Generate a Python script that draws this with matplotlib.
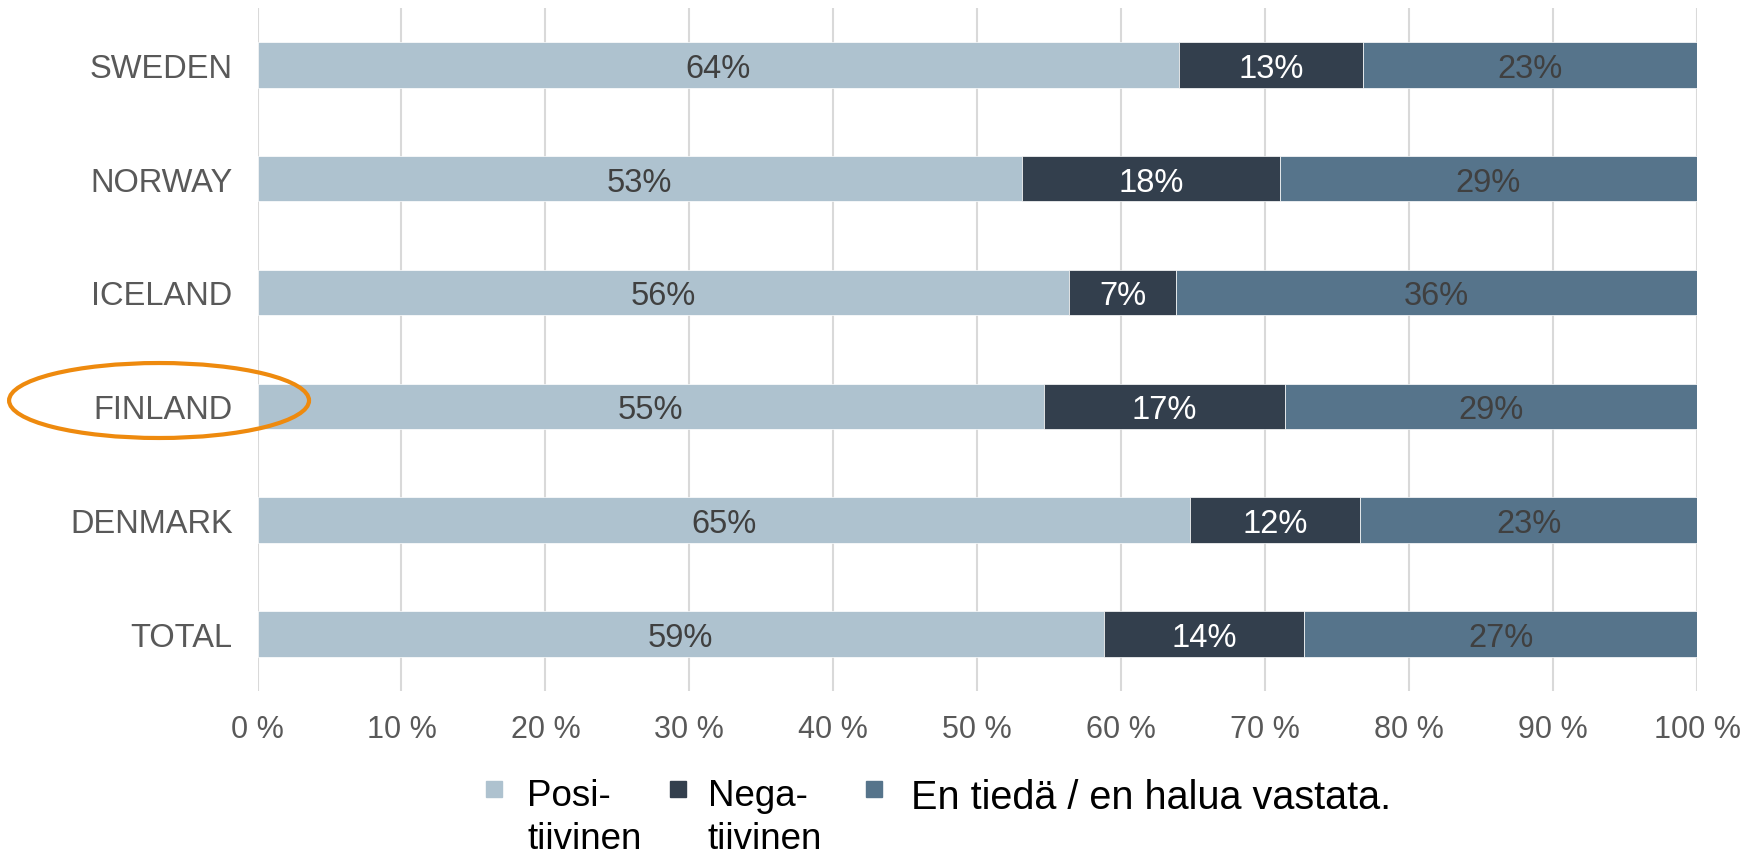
import matplotlib
matplotlib.use('Agg')
import matplotlib.pyplot as plt
from matplotlib.patches import Ellipse, Rectangle

plt.rcParams['font.family'] = ['Liberation Sans', 'DejaVu Sans']

# data (bottom to top)
countries = ['TOTAL', 'DENMARK', 'FINLAND', 'ICELAND', 'NORWAY', 'SWEDEN']
positive = [58.8, 64.8, 54.6, 56.4, 53.1, 64.0]
negative = [13.9, 11.8, 16.8, 7.4, 17.9, 12.8]
unknown = [27.3, 23.4, 28.6, 36.2, 29.0, 23.2]
series_names = ['Posi-\ntiivinen', 'Nega-\ntiivinen', 'En tiedä / en halua vastata.']
x_ticks = list(range(0, 101, 10))
x_tick_labels = [f'{t} %' for t in x_ticks]

colors = ['#AEC2CF', '#333F4D', '#56748B']
text_colors = ['#404040', 'white', '#404040']

fig = plt.figure(figsize=(17.46, 8.53), dpi=100)
ax = fig.add_axes([0.1475, 0.1891, 0.8245, 0.8003])

y = list(range(len(countries)))
left = [0] * len(countries)
for vals, col, tcol in zip([positive, negative, unknown], colors, text_colors):
    bars = ax.barh(y, vals, left=left, height=0.4, color=col,
                   edgecolor='white', linewidth=0.5, zorder=3)
    texts = ax.bar_label(bars, labels=[f'{round(v)}%' for v in vals], label_type='center',
                         color=tcol, fontsize=23.5)
    for t in texts:
        t.set_va('center_baseline')
    left = [l + v for l, v in zip(left, vals)]

ax.set_xlim(0, 100)
ax.set_ylim(-0.5, len(countries) - 0.5)
ax.set_xticks(x_ticks)
ax.set_xticklabels(x_tick_labels)
ax.set_yticks(y)
ax.set_yticklabels(countries)
ax.tick_params(axis='x', length=0, pad=17, labelsize=22, labelcolor='#595959')
ax.tick_params(axis='y', length=0, pad=18, labelsize=23.5, labelcolor='#595959')
ax.grid(axis='x', color='#D9D9D9', linewidth=1.5, zorder=0)
for s in ax.spines.values():
    s.set_visible(False)

# orange ring round the FINLAND label
fig.patches.append(Ellipse((0.0911, 0.5293), 0.1718, 0.0879, transform=fig.transFigure,
                           fill=False, edgecolor='#EE8A0E', linewidth=3))

# legend, square aligned with the first text line
sq_x = [486, 670, 866]
txt_x = [527, 708, 911]
txt_size = [26.5, 26.5, 28.5]
W, H = 1746, 853
for name, col, sx, tx, fs in zip(series_names, colors, sq_x, txt_x, txt_size):
    fig.patches.append(Rectangle((sx / W, 1 - 798 / H), 16 / W, 16 / H,
                                 transform=fig.transFigure, color=col))
    fig.text(tx / W, 1 - 779 / H, name, fontsize=fs, va='top', ha='left',
             color='black', linespacing=1.3)

fig.savefig('out.png', dpi=100)
